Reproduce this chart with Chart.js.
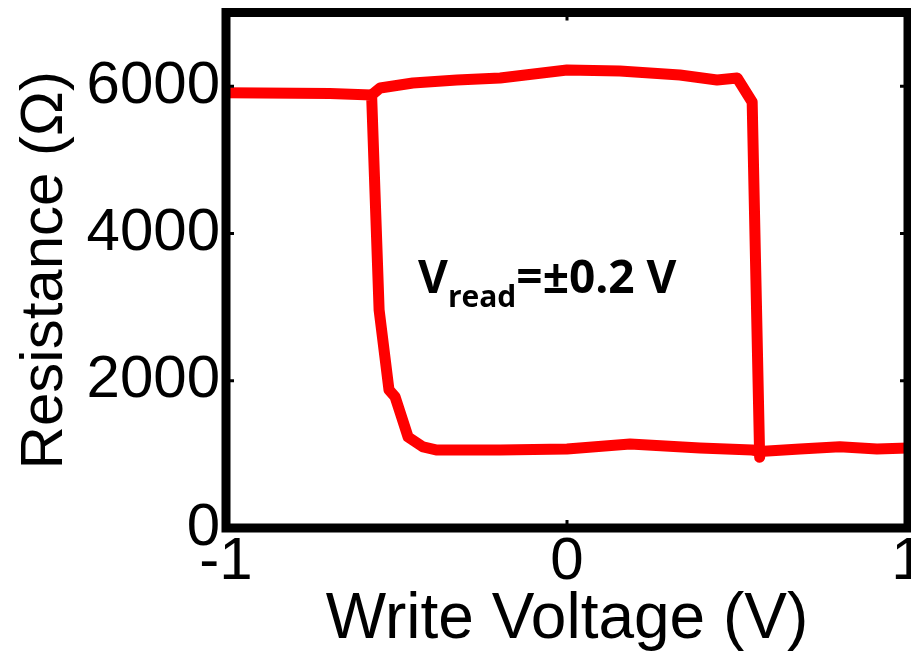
<!DOCTYPE html>
<html>
<head>
<meta charset="utf-8">
<script src="https://cdn.jsdelivr.net/npm/chart.js@4"></script>
<style>
  html, body { margin: 0; padding: 0; background: #fff; overflow: hidden; }
  #wrap { width: 911px; height: 654px; position: relative; }
</style>
</head>
<body>
<div id="wrap"><canvas id="chart"></canvas></div>
<script>
// sweep 1: HRS on the left, switch near -0.57 V, then LRS out to +1 V
const sweepAV = [-1, -0.695, -0.573, -0.563, -0.551, -0.522, -0.504, -0.466, -0.422, -0.381, -0.196, 0, 0.185, 0.39, 0.543, 0.565, 0.683, 0.80, 0.909, 1];
const sweepAR = [5910, 5900, 5880, 4549, 2960, 1874, 1779, 1236, 1100, 1059, 1059, 1073, 1141, 1086, 1059, 1040, 1073, 1104, 1073, 1086];
// sweep 2: switch back up near +0.55 V, HRS back to the left corner
const sweepBV = [0.565, 0.543, 0.499, 0.44, 0.331, 0.155, 0, -0.196, -0.323, -0.452, -0.548, -0.573];
const sweepBR = [960, 5785, 6111, 6084, 6151, 6206, 6219, 6111, 6083, 6043, 5975, 5880];

const xTicks = [-1, 0, 1];
const yTicks = [0, 2000, 4000, 6000];
const xTitle = 'Write Voltage (V)';
const yTitle = 'Resistance (Ω)';
// annotation anchor, in data units (V, Ω)
const noteV = -0.437, noteR = 3190;

const RED = '#ff0000';
const axisFont = { family: '"Liberation Sans", Arial, sans-serif', size: 60, lineHeight: 1 };

const toPts = (xs, ys) => xs.map((v, i) => ({ x: v, y: ys[i] }));

const frame = {
  id: 'frame',
  afterDatasetsDraw(chart) {
    const { ctx, chartArea: a, scales } = chart;
    ctx.save();
    ctx.strokeStyle = '#000';
    ctx.lineWidth = 9;
    ctx.strokeRect(a.left, a.top, a.right - a.left, a.bottom - a.top);
    // little inward tick marks
    ctx.lineWidth = 3;
    ctx.beginPath();
    xTicks.forEach(v => {
      const px = scales.x.getPixelForValue(v);
      ctx.moveTo(px, a.bottom); ctx.lineTo(px, a.bottom - 8);
      ctx.moveTo(px, a.top); ctx.lineTo(px, a.top + 8);
    });
    yTicks.forEach(v => {
      const py = scales.y.getPixelForValue(v);
      ctx.moveTo(a.left, py); ctx.lineTo(a.left + 8, py);
      ctx.moveTo(a.right, py); ctx.lineTo(a.right - 8, py);
    });
    ctx.stroke();
    ctx.restore();
  }
};

const note = {
  id: 'note',
  afterDatasetsDraw(chart) {
    const { ctx, scales } = chart;
    let x = scales.x.getPixelForValue(noteV);
    const y = scales.y.getPixelForValue(noteR);
    ctx.save();
    ctx.fillStyle = '#000';
    ctx.textBaseline = 'alphabetic';
    ctx.textAlign = 'left';
    const big = 'bold 46px "Open Sans", sans-serif';
    const small = 'bold 30px "Open Sans", sans-serif';
    ctx.font = big;
    ctx.fillText('V', x, y);
    x += ctx.measureText('V').width;
    ctx.font = small;
    ctx.fillText('read', x, y + 14);
    x += ctx.measureText('read').width;
    ctx.font = big;
    ctx.fillText('=±0.2 V', x, y);
    ctx.restore();
  }
};

new Chart(document.getElementById('chart'), {
  type: 'scatter',
  data: {
    datasets: [
      { data: toPts(sweepAV, sweepAR), showLine: true, borderColor: RED, borderWidth: 11, pointRadius: 0, borderJoinStyle: 'round', borderCapStyle: 'round' },
      { data: toPts(sweepBV, sweepBR), showLine: true, borderColor: RED, borderWidth: 11, pointRadius: 0, borderJoinStyle: 'round', borderCapStyle: 'round' }
    ]
  },
  options: {
    responsive: true,
    maintainAspectRatio: false,
    animation: false,
    layout: { padding: { top: 12.5, right: 3, bottom: 0, left: 0 } },
    plugins: { legend: { display: false }, tooltip: { enabled: false } },
    scales: {
      x: {
        type: 'linear', min: -1, max: 1,
        afterBuildTicks: s => { s.ticks = xTicks.map(v => ({ value: v })); },
        ticks: { color: '#000', font: axisFont, padding: 4, maxRotation: 0, callback: v => String(v) },
        grid: { display: false, drawTicks: false },
        border: { display: false },
        title: { display: true, text: xTitle, color: '#000', font: { family: axisFont.family, size: 64, lineHeight: 1 }, padding: { top: 0, bottom: 2 } },
        afterFit(s) { s.height = 126; s.paddingLeft = 0; s.paddingRight = 0; }
      },
      y: {
        type: 'linear', min: 0, max: 7000,
        afterBuildTicks: s => { s.ticks = yTicks.map(v => ({ value: v })); },
        ticks: { color: '#000', font: axisFont, padding: 6, callback: v => String(v) },
        grid: { display: false, drawTicks: false },
        border: { display: false },
        title: { display: true, text: yTitle, color: '#000', font: axisFont, padding: { top: 15, bottom: 0 } },
        afterFit(s) { s.width = 226; s.paddingTop = 0; s.paddingBottom = 0; }
      }
    }
  },
  plugins: [frame, note]
});
</script>
</body>
</html>
